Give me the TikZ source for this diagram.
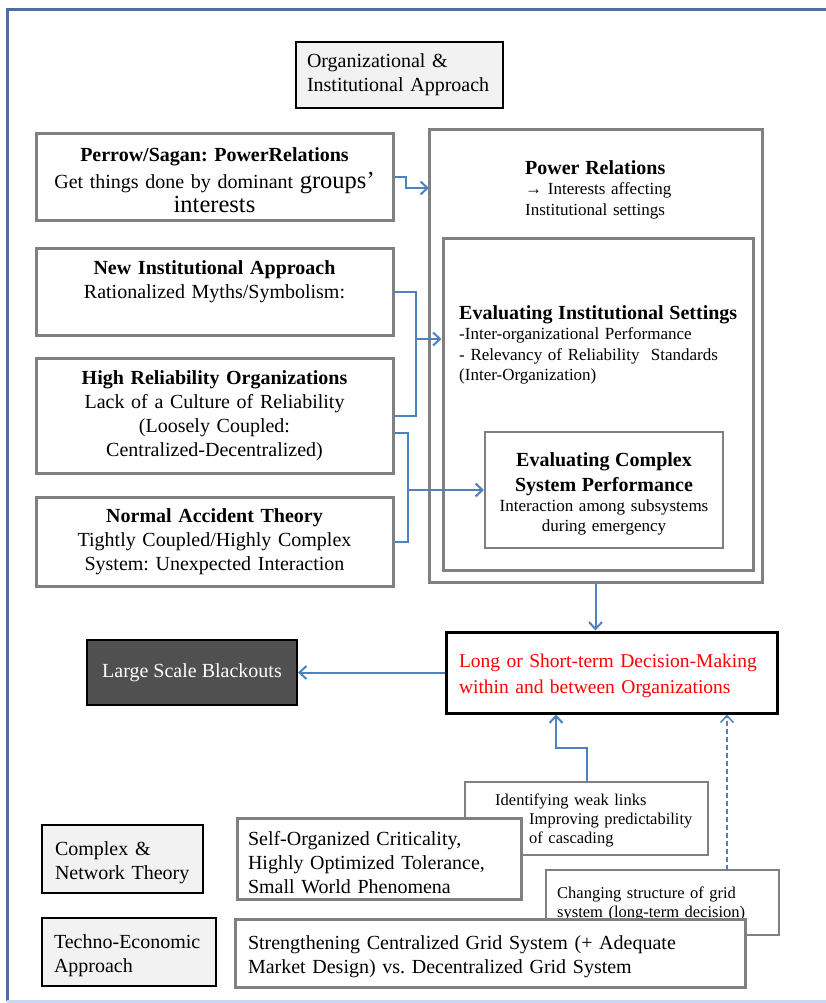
\documentclass[tikz,border=0pt]{standalone}
\usepackage{fontspec}
\setmainfont{Liberation Serif}
\usetikzlibrary{arrows.meta}
\definecolor{linkblue}{HTML}{4F81BD}
\definecolor{frameblue}{HTML}{4A6EA5}
\definecolor{lightframe}{HTML}{C6D9F1}
\definecolor{boxgray}{HTML}{808080}
\definecolor{approachfill}{HTML}{F2F2F2}
\definecolor{darkfill}{HTML}{505050}
\newcommand{\boxtitle}[1]{{\fontsize{20}{24}\selectfont\bfseries #1}}
\newcommand{\toppad}[1]{\rule{0pt}{#1}}
\frenchspacing

\begin{document}
\begin{tikzpicture}[x=1pt, y=-1pt, >={Straight Barb[length=7pt,width=13pt]}]
    \tikzset{theory/.style={%
      draw=boxgray,%
      line width=3pt,%
      fill=white,%
      rectangle,%
      align=center,%
      font=\fontsize{20}{24}\selectfont}%
    };
\tikzset{approach/.style={draw=black, line width=2pt, fill=approachfill, align=left, font=\fontsize{20}{24}\selectfont}};
\tikzset{thinbox/.style={draw=boxgray, line width=1.5pt, fill=white}};
\tikzset{link/.style={draw=linkblue, line width=2pt}};
\tikzset{subtext/.style={font=\fontsize{17}{20.5}\selectfont, inner sep=0pt, align=left}};
\tikzset{notetext/.style={font=\fontsize{16.5}{19}\selectfont, inner sep=0pt, align=left}};

\useasboundingbox (0,0) rectangle (826,1003);

%outer frame
\draw[frameblue, line width=3pt] (826,10) -- (7,10) -- (7,1001);
\draw[lightframe, line width=3pt] (7,1001) -- (826,1001);

\node[approach, minimum width=207pt, minimum height=66pt, text width=185pt] (orgapproach) at (399.5,75) {Organizational \&\\Institutional Approach};

%theories on the left
\node[theory, minimum width=357pt, minimum height=86pt, text width=340pt] (perrow) at (214.5,177) {\toppad{21pt}\boxtitle{Perrow/Sagan: PowerRelations}\\[3pt]Get things done by dominant {\fontsize{24.5}{25}\selectfont groups'}\\{\fontsize{24.5}{25}\selectfont interests}};
\node[theory, minimum width=357pt, minimum height=87pt, text width=340pt] (newinst) at (214.5,291.5) {\boxtitle{New Institutional Approach}\\Rationalized Myths/Symbolism:\\\mbox{}};
\node[theory, minimum width=357pt, minimum height=115pt, text width=340pt] (hro) at (214.5,415.5) {\boxtitle{High Reliability Organizations}\\Lack of a Culture of Reliability\\(Loosely Coupled:\\Centralized-Decentralized)};
\node[theory, minimum width=357pt, minimum height=89pt, text width=340pt] (nat) at (214.5,541.5) {\boxtitle{Normal Accident Theory}\\Tightly Coupled/Highly Complex\\System: Unexpected Interaction};

%nested boxes on the right
\node[theory, minimum width=333pt, minimum height=452pt] (power) at (595.5,356) {};
\node[subtext, text width=220pt] (powertext) at (525,160) [anchor=north west] {\boxtitle{Power Relations}\\→ Interests affecting\\Institutional settings};
\node[theory, minimum width=310pt, minimum height=332pt] (settings) at (598,404) {};
\node[subtext, text width=285pt] (settingstext) at (459,305) [anchor=north west] {\boxtitle{Evaluating Institutional Settings}\\-Inter-organizational Performance\\- Relevancy of Reliability\ \ Standards\\(Inter-Organization)};
\node[thinbox, line width=2pt, minimum width=238pt, minimum height=116pt, text width=225pt, align=center, font=\fontsize{17}{20}\selectfont] (complexperf) at (604,490) {\toppad{21pt}\boxtitle{Evaluating Complex}\\[5pt]\boxtitle{System Performance}\\Interaction among subsystems\\during emergency};

\node[draw=black, line width=3pt, fill=white, minimum width=331pt, minimum height=81pt, text width=305pt, align=left, text=red, font=\fontsize{19.5}{26}\selectfont] (decision) at (611.5,672.5) {\toppad{20pt}Long or Short-term Decision-Making\\within and between Organizations};
\node[draw=black, line width=2pt, fill=darkfill, text=white, minimum width=210pt, minimum height=65pt, font=\fontsize{20}{24}\selectfont] (blackouts) at (192,672.5) {Large Scale Blackouts};

%bottom approaches
\node[approach, minimum width=161pt, minimum height=68pt, text width=135pt] (complexnet) at (122.5,859) {\toppad{22pt}Complex \&\\Network Theory};
\node[approach, minimum width=174pt, minimum height=68pt, text width=150pt] (techno) at (129,952) {\toppad{22pt}Techno-Economic\\Approach};

\node[thinbox, minimum width=243pt, minimum height=73pt] (weaklinks) at (586.5,818.5) {};
\node[notetext, text width=170pt] (weaklinkstext) at (529,794) [anchor=north west] {\hspace*{-34pt}Identifying weak links\\Improving predictability\\of cascading};
\node[theory, minimum width=284pt, minimum height=81pt, text width=262pt, align=left] (soc) at (379,858.5) {\toppad{22pt}Self-Organized Criticality,\\Highly Optimized Tolerance,\\Small World Phenomena};

\node[thinbox, minimum width=233pt, minimum height=65pt] (changing) at (662.5,902.5) {};
\node[notetext, text width=215pt] (changingtext) at (557,887) [anchor=north west] {Changing structure of grid\\system (long-term decision)};
\node[theory, minimum width=510pt, minimum height=68pt, text width=484pt, align=left] (strength) at (490,953) {\toppad{22pt}Strengthening Centralized Grid System (+ Adequate\\Market Design) vs. Decentralized Grid System};

%connectors
\coordinate (pwrin) at (429,188);
\coordinate (joinA) at (416,339);
\coordinate (joinB) at (408,490);
\coordinate (bendW) at (556,748);
\coordinate (dashfoot) at (727,870);

\draw[link, ->] (perrow.east) -- ++(11,0) |- (pwrin);
\draw[link] (newinst.east) -| (joinA);
\draw[link] (hro.east) -| (joinA);
\draw[link, ->] (joinA) -- (settings.west |- joinA);
\draw[link] ([yshift=-17.5pt]hro.east) -| (joinB) |- (nat.east);
\draw[link, ->] (joinB) -- (complexperf.west);

\draw[link, ->] (power.south) -- (power.south |- decision.north);
\draw[link, ->] (decision.west) -- (blackouts.east);
\draw[link, ->] (weaklinks.north) |- (bendW) -- (bendW |- decision.south);
\draw[link, line width=1.5pt, dash pattern=on 5pt off 3pt, ->] (dashfoot) -- (dashfoot |- decision.south);

\end{tikzpicture}
\end{document}
